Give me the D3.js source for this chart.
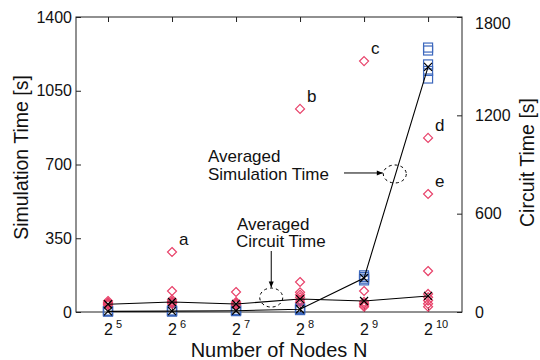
<!DOCTYPE html>
<html>
<head>
<meta charset="utf-8">
<script src="https://cdn.jsdelivr.net/npm/d3@7"></script>
<style>
  body { margin: 0; background: #fff; }
  svg { font-family: "Liberation Sans", Arial, sans-serif; }
</style>
</head>
<body>
<svg id="chart" width="540" height="360"></svg>
<script>
// number of nodes (x categories)
const nodes = [32, 64, 128, 256, 512, 1024];

// individual simulation runs (blue squares, left axis)
const simRuns = [
  [2, 3, 5, 6],
  [2, 4, 5, 7],
  [4, 6, 8, 10],
  [9, 12, 15, 18],
  [150, 158, 166, 174],
  [1108, 1144, 1175, 1241, 1255]
];
// individual circuit runs (red diamonds, right axis)
const circuitRuns = [
  [43, 48, 52, 58, 67],
  [50, 58, 65, 75, 128, 366],
  [43, 49, 55, 61, 122],
  [60, 75, 90, 105, 120, 183, 1239],
  [32, 42, 52, 62, 128, 1531],
  [32, 50, 70, 90, 110, 250, 720, 1062]
];
const simAvg = [3, 4, 6, 13, 161, 1163];
const circuitAvg = [47, 61, 49, 79, 67, 98];

// labelled outliers of the circuit runs
const outlierNodes = [64, 256, 512, 1024, 1024];
const outlierValues = [366, 1239, 1531, 1062, 720];
const outlierLabels = ["a", "b", "c", "d", "e"];

const leftTicks = [0, 350, 700, 1050, 1400];
const rightTicks = [0, 600, 1200, 1800];

const svg = d3.select("#chart");
const margin = { top: 17, right: 78, bottom: 48, left: 76 };
const width = 540, height = 360;
const ink = "#222";
const red = "#e8426a";
const blue = "#3d68bd";

const x = d3.scaleLog().base(2)
  .domain([Math.pow(2, 4.5), Math.pow(2, 10.53)])
  .range([margin.left, width - margin.right]);
const yL = d3.scaleLinear().domain([0, 1400]).range([height - margin.bottom, margin.top]);
const yR = d3.scaleLinear().domain([0, 1800]).range([height - margin.bottom, margin.top]);

const x0 = margin.left, x1 = width - margin.right;
const y0 = height - margin.bottom, y1 = margin.top;

// axes
const styleAxis = g => {
  g.select(".domain").remove();
  g.selectAll(".tick line").attr("stroke", ink);
  g.selectAll(".tick text").attr("fill", "#111").attr("font-size", 16);
};

svg.append("g")
  .attr("transform", `translate(${x0},0)`)
  .call(d3.axisLeft(yL).tickValues(leftTicks).tickFormat(d3.format("d")).tickSize(-5).tickPadding(4))
  .call(styleAxis);

svg.append("g")
  .attr("transform", `translate(${x1},0)`)
  .call(d3.axisRight(yR).tickValues(rightTicks).tickFormat(d3.format("d")).tickSize(-5).tickPadding(13))
  .call(styleAxis)
  .call(g => g.selectAll(".tick text").filter(d => d === 1800).attr("dy", "0.7em"));

svg.append("g")
  .attr("transform", `translate(0,${y1})`)
  .call(d3.axisTop(x).tickValues(nodes).tickSize(-5).tickFormat(""))
  .call(styleAxis);

svg.append("g")
  .attr("transform", `translate(0,${y0})`)
  .call(d3.axisBottom(x).tickValues(nodes).tickSize(-5))
  .call(styleAxis)
  .call(g => g.selectAll(".tick text").each(function (d) {
    const t = d3.select(this).text(null)
      .attr("y", 23).attr("dy", null).attr("x", -4.5)
      .attr("text-anchor", "start");
    t.append("tspan").text("2");
    t.append("tspan").attr("dx", 3).attr("dy", -7).attr("font-size", 11).text(Math.log2(d));
  }));

svg.append("rect")
  .attr("x", x0).attr("y", y1)
  .attr("width", x1 - x0).attr("height", y0 - y1)
  .attr("fill", "none").attr("stroke", ink).attr("stroke-width", 1);

// axis titles
svg.append("text")
  .attr("x", 279).attr("y", 357)
  .attr("text-anchor", "middle").attr("font-size", 20).attr("fill", "#111")
  .text("Number of Nodes N");
svg.append("text")
  .attr("transform", `translate(28,${(y0 + y1) / 2 - 7}) rotate(-90)`)
  .attr("text-anchor", "middle").attr("font-size", 19.5).attr("fill", "#111")
  .text("Simulation Time [s]");
svg.append("text")
  .attr("transform", `translate(534,${(y0 + y1) / 2 - 2}) rotate(-90)`)
  .attr("text-anchor", "middle").attr("font-size", 19.5).attr("fill", "#111")
  .text("Circuit Time [s]");

// individual runs
const plot = svg.append("g");

const squares = nodes.flatMap((n, i) => simRuns[i].map(v => ({ n, v })));
plot.append("g")
  .selectAll("rect")
  .data(squares)
  .join("rect")
  .attr("x", d => x(d.n) - 4.5)
  .attr("y", d => yL(d.v) - 4.5)
  .attr("width", 9).attr("height", 9)
  .attr("fill", "none").attr("stroke", blue).attr("stroke-width", 1.2);

const diamonds = nodes.flatMap((n, i) => circuitRuns[i].map(v => ({ n, v })));
plot.append("g")
  .selectAll("path")
  .data(diamonds)
  .join("path")
  .attr("transform", d => `translate(${x(d.n)},${yR(d.v)})`)
  .attr("d", "M0,-4.5L4.5,0L0,4.5L-4.5,0Z")
  .attr("fill", "none").attr("stroke", red).attr("stroke-width", 1.2);

// averaged lines
const cross = "M-4,-4L4,4M-4,4L4,-4";
const drawAvg = (vals, y) => {
  const g = plot.append("g");
  g.append("path")
    .datum(vals)
    .attr("d", d3.line().x((d, i) => x(nodes[i])).y(d => y(d)))
    .attr("fill", "none").attr("stroke", "#000").attr("stroke-width", 1.1);
  g.selectAll(".x")
    .data(vals)
    .join("path")
    .attr("transform", (d, i) => `translate(${x(nodes[i])},${y(d)})`)
    .attr("d", cross)
    .attr("stroke", "#000").attr("stroke-width", 1.2);
};
drawAvg(simAvg, yL);
drawAvg(circuitAvg, yR);

// outlier letters
svg.append("g")
  .selectAll("text")
  .data(outlierLabels)
  .join("text")
  .attr("x", (d, i) => x(outlierNodes[i]) + 7)
  .attr("y", (d, i) => yR(outlierValues[i]) - 7)
  .attr("font-size", 17).attr("fill", "#111")
  .text(d => d);

// annotations
const note = svg.append("g").attr("font-size", 17).attr("fill", "#111");
const arrowHead = (g, px, py, dir) => {
  const p = dir === "right"
    ? `M${px},${py}L${px - 6},${py - 2.5}L${px - 6},${py + 2.5}Z`
    : `M${px},${py}L${px - 2.5},${py - 6}L${px + 2.5},${py - 6}Z`;
  g.append("path").attr("d", p).attr("fill", "#000");
};

// averaged simulation time
const sx = x(Math.pow(2, 9.48)), sy = yL(655);
note.append("text").attr("x", 208).attr("y", 162).text("Averaged");
note.append("text").attr("x", 208).attr("y", 179.5).text("Simulation Time");
note.append("ellipse").attr("cx", sx).attr("cy", sy).attr("rx", 11.5).attr("ry", 9)
  .attr("fill", "none").attr("stroke", "#000").attr("stroke-dasharray", "3,3");
note.append("line").attr("x1", 344).attr("x2", sx - 12).attr("y1", sy - 1).attr("y2", sy - 1)
  .attr("stroke", "#000");
arrowHead(note, sx - 12, sy - 1, "right");

// averaged circuit time
const cx = x(Math.pow(2, 7.55)), cy = yR(88);
note.append("text").attr("x", 237).attr("y", 229.5).text("Averaged");
note.append("text").attr("x", 236).attr("y", 247).text("Circuit Time");
note.append("ellipse").attr("cx", cx).attr("cy", cy).attr("rx", 11.5).attr("ry", 9.5)
  .attr("fill", "none").attr("stroke", "#000").attr("stroke-dasharray", "3,3");
note.append("line").attr("x1", cx).attr("x2", cx).attr("y1", 251).attr("y2", cy - 10)
  .attr("stroke", "#000");
arrowHead(note, cx, cy - 10, "down");
</script>
</body>
</html>
